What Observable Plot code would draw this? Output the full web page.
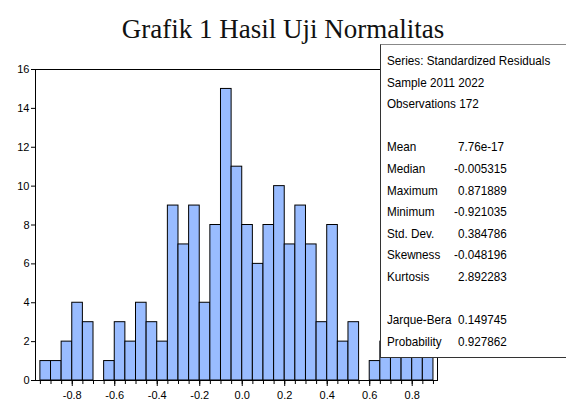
<!DOCTYPE html>
<html>
<head>
<meta charset="utf-8">
<script src="https://cdn.jsdelivr.net/npm/d3@7"></script>
<script src="https://cdn.jsdelivr.net/npm/@observablehq/plot@0.6"></script>
<style>
  html, body { margin: 0; padding: 0; background: white; }
  #wrap { position: relative; width: 566px; height: 401px; overflow: hidden; background: white; }
  #title { height: 50px; position: relative; }
  #title span { position: absolute; left: 0; right: 0; top: 16px; text-align: center;
    font-family: "Liberation Serif", "DejaVu Serif", serif; font-size: 27px; line-height: 27px; color: #111; }
  #stats { position: absolute; left: 380px; top: 44px; width: 200px; height: 312px;
    border: 1px solid #333; border-top-color: #888; background: white;
    font-family: "Liberation Sans", Arial, sans-serif; font-size: 13px; color: #000; }
  .row, .val { position: absolute; white-space: nowrap; line-height: 14px;
    transform: scaleX(0.9); transform-origin: left center; }
  .row { left: 6px; }
  .val { left: 73px; }
  .hid { visibility: hidden; }
</style>
</head>
<body>
<div id="wrap">
  <div id="title"><span>Grafik 1 Hasil Uji Normalitas</span></div>
  <div id="chart"></div>
  <div id="stats"></div>
</div>
<script>
// Histogram bins (lower edges), counts per bin
const binStart = [-0.95, -0.90, -0.85, -0.80, -0.75, -0.70, -0.65, -0.60, -0.55, -0.50,
                  -0.45, -0.40, -0.35, -0.30, -0.25, -0.20, -0.15, -0.10, -0.05, 0.00,
                   0.05, 0.10, 0.15, 0.20, 0.25, 0.30, 0.35, 0.40, 0.45, 0.50,
                   0.55, 0.60, 0.65, 0.70, 0.75, 0.80, 0.85];
const counts   = [1, 1, 2, 4, 3, 0, 1, 3, 2, 4,
                  3, 2, 9, 7, 9, 4, 8, 15, 11, 8,
                  6, 8, 10, 7, 9, 7, 3, 8, 2, 3,
                  0, 1, 2, 2, 3, 2, 2];
const binWidth = 0.05;
const xTickLabels = [-0.8, -0.6, -0.4, -0.2, 0.0, 0.2, 0.4, 0.6, 0.8];
const yTicks = [0, 2, 4, 6, 8, 10, 12, 14, 16];

// Stats box text
const headerLines = ["Series: Standardized Residuals", "Sample 2011 2022", "Observations 172"];
const statLabels = ["Mean", "Median", "Maximum", "Minimum", "Std. Dev.", "Skewness", "Kurtosis"];
const statValues = ["7.76e-17", "-0.005315", "0.871889", "-0.921035", "0.384786", "-0.048196", "2.892283"];
const testLabels = ["Jarque-Bera", "Probability"];
const testValues = ["0.149745", "0.927862"];

const bins = binStart.map((s, i) => ({x0: s, x1: s + binWidth, count: counts[i]}));
const edges = binStart.concat([binStart[binStart.length - 1] + binWidth]);

const chart = Plot.plot({
  width: 566,
  height: 351,
  marginTop: 19,
  marginBottom: 21,
  marginLeft: 35,
  marginRight: 129,
  x: {domain: [-0.973, 0.919]},
  y: {domain: [0, 16]},
  style: {fontFamily: "'Liberation Sans', Arial, sans-serif", fontSize: "11px", color: "black", background: "white", overflow: "visible"},
  marks: [
    Plot.rectY(bins, {x1: "x0", x2: "x1", y: "count", fill: "#99bcff", stroke: "black", strokeWidth: 1}),
    Plot.frame({stroke: "black", strokeWidth: 1}),
    Plot.axisY({ticks: yTicks, tickSize: 4, tickPadding: 2, label: null, tickFormat: d => String(d), fontSize: 11}),
    Plot.axisX({ticks: edges, tickSize: 4, tickFormat: () => "", label: null}),
    Plot.axisX({ticks: xTickLabels, tickSize: 6, tickPadding: 5, label: null, tickFormat: d => d.toFixed(1), fontSize: 11})
  ]
});
document.getElementById("chart").appendChild(chart);

// Build stats box
const box = d3.select("#stats");
const lineStep = 21.6;
const firstCenter = 16; // relative to box top
let lineIdx = 0;
function addLine(label, value) {
  const top = firstCenter + lineIdx * lineStep - 7;
  if (label !== null) box.append("div").attr("class", "row").style("top", top + "px").text(label);
  if (value !== undefined && value !== null) {
    const v = box.append("div").attr("class", "val").style("top", top + "px");
    if (!value.startsWith("-")) v.append("span").attr("class", "hid").text("-");
    v.append("span").text(value);
  }
  lineIdx++;
}
headerLines.forEach(h => addLine(h));
lineIdx++;
statLabels.forEach((l, i) => addLine(l, statValues[i]));
lineIdx++;
testLabels.forEach((l, i) => addLine(l, testValues[i]));
</script>
</body>
</html>
